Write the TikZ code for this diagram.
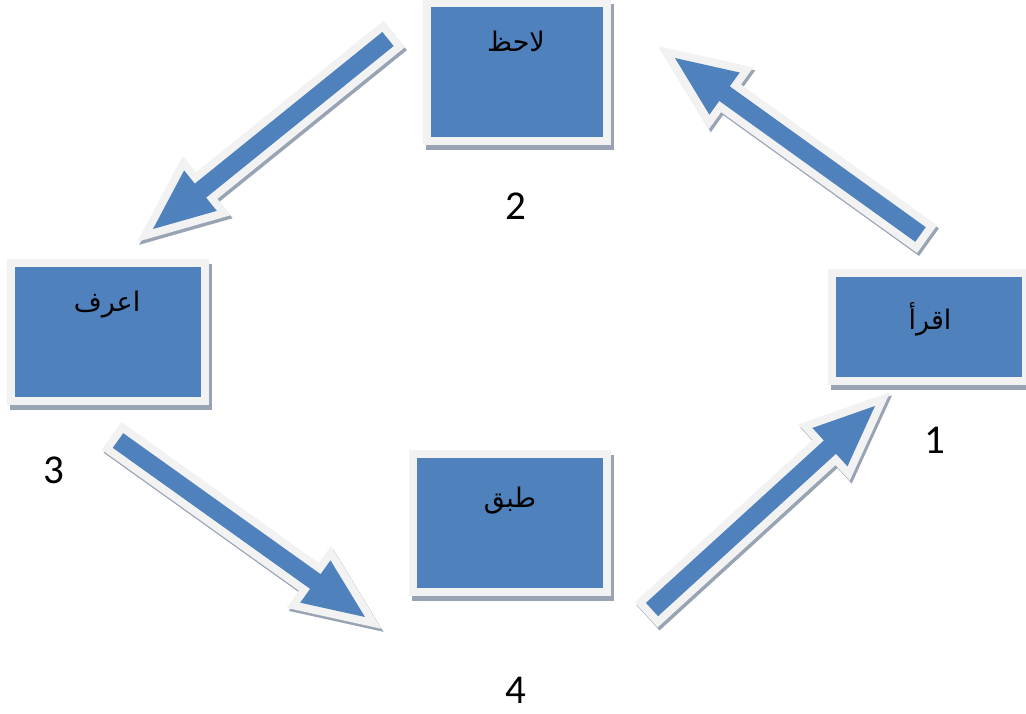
\documentclass[tikz,border=0pt]{standalone}
\usepackage{fontspec}
\setmainfont{Carlito}
\newfontfamily\arabicfont[Script=Arabic]{DejaVu Sans}
\TeXXeTstate=1
\usetikzlibrary{calc,backgrounds}
\definecolor{boxblue}{HTML}{4F81BD}
\definecolor{rimgray}{HTML}{F2F2F2}
\definecolor{shadegray}{HTML}{98A4B4}
\tikzset{
  stagebox/.style={fill=boxblue, draw=rimgray, line width=8pt, inner sep=0pt, minimum width=194pt, minimum height=138pt},
  boxshade/.style={fill=shadegray},
  arrowshade/.style={fill=shadegray, draw=shadegray, line width=16pt, line join=miter, miter limit=10},
  arrowbody/.style={preaction={draw=rimgray, line width=16pt, line join=miter, miter limit=10}, fill=boxblue},
  wordlabel/.style={font=\arabicfont\fontsize{27}{31}\selectfont, inner sep=0pt},
  numlabel/.style={font=\fontsize{41}{45}\selectfont, inner sep=0pt}
}
\newcommand\arrowshape{(0,-9) -- ({\arrlen-61},-9) -- ({\arrlen-61},-26) -- (\arrlen,0) -- ({\arrlen-61},26) -- ({\arrlen-61},9) -- (0,9) -- cycle}
\newcommand\blockarrow[2]{%
  \path let \p1=($(#2)-(#1)$) in \pgfextra{%
    \pgfmathparse{veclen(\x1,\y1)}\xdef\arrlen{\pgfmathresult}%
    \pgfmathparse{atan2(\y1,\x1)}\xdef\arrang{\pgfmathresult}};
  \begin{scope}[shift={(#1)},shift={(2,3)},rotate=\arrang]
    \path[arrowshade] \arrowshape;
  \end{scope}
  \begin{scope}[shift={(#1)},rotate=\arrang]
    \path[arrowbody] \arrowshape;
  \end{scope}
}
\begin{document}
\begin{tikzpicture}[x=1pt,y=-1pt]
\useasboundingbox (0,0) rectangle (1026,713);
% boxes
\node[stagebox, minimum height=108pt] (b1) at (929,327) {};
\node[stagebox, minimum width=180pt] (b2) at (517,72) {};
\node[stagebox] (b3) at (108,332) {};
\node[stagebox] (b4) at (510,523) {};
\begin{scope}[on background layer]
  \foreach \b in {b1,b2,b3,b4}
    \fill[boxshade] ($(\b.south west)+(3,5)$) rectangle ($(\b.north east)+(3,5)$);
\end{scope}
% texts
\node[wordlabel] (t1) at (930,319) {\beginR اقرأ\endR};
\node[wordlabel] (t2) at (516,41) {\beginR لاحظ\endR};
\node[wordlabel] (t3) at (107,305) {\beginR اعرف\endR};
\node[wordlabel] (t4) at (510,501) {\beginR طبق\endR};
\node[numlabel] (n1) at (935,440) {1};
\node[numlabel] (n2) at (515.5,206) {2};
\node[numlabel] (n3) at (54,470) {3};
\node[numlabel] (n4) at (516,690) {4};
% arrows
\coordinate (a12s) at (920.5,234.5);
\coordinate (a12e) at (675,58);
\coordinate (a23s) at (388,39);
\coordinate (a23e) at (153,229);
\coordinate (a34s) at (118,440.5);
\coordinate (a34e) at (365,617);
\coordinate (a41s) at (652,609.5);
\coordinate (a41e) at (875,406);
\blockarrow{a12s}{a12e}
\blockarrow{a23s}{a23e}
\blockarrow{a34s}{a34e}
\blockarrow{a41s}{a41e}
\end{tikzpicture}
\end{document}
